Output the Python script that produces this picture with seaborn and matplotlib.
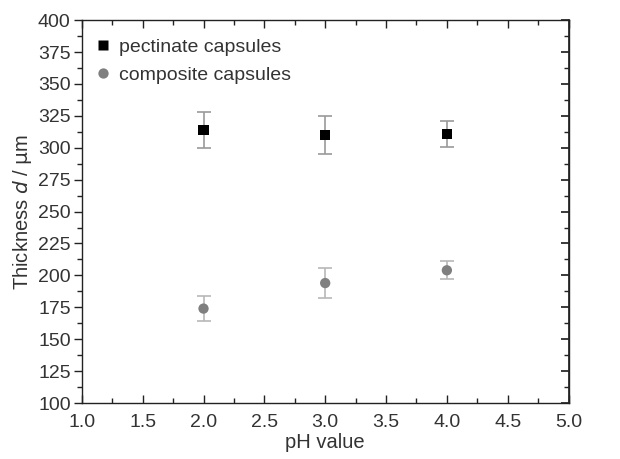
import matplotlib
matplotlib.use("Agg")
import matplotlib.pyplot as plt
from matplotlib.ticker import MultipleLocator
import seaborn as sns
import pandas as pd

ph = [2.0, 3.0, 4.0]
pectinate = [314, 310, 311]
pectinate_err = [14, 15, 10]
composite = [174, 194, 204]
composite_err = [10, 12, 7]
series_names = ["pectinate capsules", "composite capsules"]

sns.set_theme(style="ticks")
plt.rcParams['font.family'] = ['Liberation Sans', 'DejaVu Sans']

fig = plt.figure(figsize=(6.2, 4.59), dpi=100)
ax = fig.add_axes([0.132, 0.122, 0.785, 0.834])

df = pd.DataFrame({
    "pH": ph + ph,
    "thickness": pectinate + composite,
    "err": pectinate_err + composite_err,
    "series": [series_names[0]] * 3 + [series_names[1]] * 3,
})

colors = {series_names[0]: "#000000", series_names[1]: "#7f7f7f"}
ecolors = {series_names[0]: "#9a9a9a", series_names[1]: "#b8b8b8"}
markers = {series_names[0]: "s", series_names[1]: "o"}

for name in series_names:
    sub = df[df["series"] == name]
    ax.errorbar(sub["pH"], sub["thickness"], yerr=sub["err"], fmt="none",
                ecolor=ecolors[name], elinewidth=1.2, capsize=5, capthick=1.2, zorder=2)

sns.scatterplot(data=df, x="pH", y="thickness", hue="series", style="series",
                palette=colors, markers=markers, s=55, edgecolor="none",
                ax=ax, zorder=3)

ax.set_xlim(1.0, 5.0)
ax.set_ylim(100, 400)
ax.xaxis.set_major_locator(MultipleLocator(0.5))
ax.xaxis.set_minor_locator(MultipleLocator(0.25))
ax.yaxis.set_major_locator(MultipleLocator(25))
ax.yaxis.set_minor_locator(MultipleLocator(12.5))
ax.set_xticks([1.0, 1.5, 2.0, 2.5, 3.0, 3.5, 4.0, 4.5, 5.0])
ax.set_xticklabels(["1.0", "1.5", "2.0", "2.5", "3.0", "3.5", "4.0", "4.5", "5.0"])

for s in ax.spines.values():
    s.set_visible(True)
    s.set_linewidth(1.0)
    s.set_color("#222222")

ax.tick_params(axis="x", which="both", direction="in", top=True, bottom=True,
               labelsize=14, colors="#222222", labelcolor="#333333", pad=8)
ax.tick_params(axis="y", which="both", direction="out", left=True, right=False,
               labelsize=14, colors="#222222", labelcolor="#333333", pad=2)
ax.tick_params(which="major", length=6, width=1)
ax.tick_params(which="minor", length=3.5, width=1)
ax2 = ax.secondary_yaxis("right")
ax2.yaxis.set_major_locator(MultipleLocator(25))
ax2.yaxis.set_minor_locator(MultipleLocator(12.5))
ax2.tick_params(which="both", direction="in", labelright=False, colors="#222222")
ax2.tick_params(which="major", length=6)
ax2.tick_params(which="minor", length=3.5)

ax.set_xlabel("pH value", fontsize=14.5, color="#333333", labelpad=1)
ax.set_ylabel(r"Thickness $\mathit{d}$ / $\mathrm{\mu}$m", fontsize=14.5, color="#333333", labelpad=3)

leg = ax.legend(loc="upper left", frameon=False, fontsize=14, handletextpad=0.1,
                borderaxespad=0.0, labelspacing=0.5, markerscale=1.0,
                handlelength=1.4, bbox_to_anchor=(0.0, 0.972))
for t in leg.get_texts():
    t.set_color("#333333")

fig.savefig("out.png", dpi=100)
